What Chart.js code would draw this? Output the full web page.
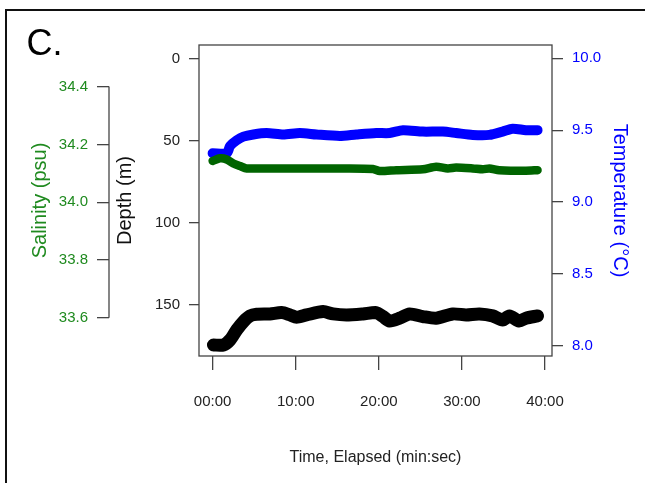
<!DOCTYPE html>
<html>
<head>
<meta charset="utf-8">
<script src="https://cdn.jsdelivr.net/npm/chart.js@4/dist/chart.umd.min.js"></script>
<style>
    html, body { margin: 0; padding: 0; background: #fff; }
    #wrap { width: 645px; height: 483px; }
</style>
</head>
<body>
<div id="wrap"><canvas id="ctdChart" width="645" height="483"></canvas></div>
<script>
// values (time in minutes)
const depthTime = [0.1, 1.3, 2.1, 2.9, 3.7, 4.5, 5.3, 6.9, 8.3, 9.3, 10.1, 11.3, 13.3, 14.5, 16.1, 18.1, 19.7, 20.5, 21.3, 22.5, 23.7, 25.3, 26.9, 28.9, 30.5, 32.1, 33.7, 34.9, 35.7, 36.9, 37.7, 39.1];
const depthValues = [174.3, 174.3, 171.2, 165.1, 160.1, 156.6, 155.6, 155.4, 154.6, 156.0, 157.4, 156.0, 154.0, 155.4, 156.0, 155.4, 154.6, 157.0, 159.7, 158.0, 155.4, 157.0, 158.0, 155.4, 156.0, 155.4, 156.6, 159.1, 156.6, 159.7, 158.0, 156.6];

const tempTime = [0, 1.7, 2.1, 2.9, 3.7, 4.9, 6.5, 8.5, 10.5, 12.5, 15.3, 17.3, 19.7, 21.3, 22.9, 25.3, 27.7, 29.3, 31.3, 33.3, 34.9, 36.1, 37.7, 39.1];
const tempValues = [9.34, 9.34, 9.39, 9.43, 9.455, 9.47, 9.48, 9.47, 9.48, 9.47, 9.46, 9.47, 9.48, 9.48, 9.50, 9.49, 9.49, 9.48, 9.467, 9.467, 9.49, 9.51, 9.50, 9.50];

const salTime = [0, 0.9, 1.7, 2.5, 3.3, 4.1, 8, 12, 16, 19.3, 20.1, 22.1, 25.3, 26.9, 28.3, 29.3, 31.3, 32.5, 33.3, 34.5, 37.7, 39.1];
const salValues = [34.143, 34.152, 34.148, 34.134, 34.125, 34.117, 34.117, 34.117, 34.117, 34.115, 34.108, 34.111, 34.114, 34.123, 34.117, 34.120, 34.117, 34.114, 34.117, 34.111, 34.109, 34.111];

const timeTicks = [0, 10, 20, 30, 40];
const depthTicks = [0, 50, 100, 150];
const tempTicks = [8.0, 8.5, 9.0, 9.5, 10.0];
const salTicks = [33.6, 33.8, 34.0, 34.2, 34.4];

const GREEN = '#006400';
const GREEN_TXT = '#1f8a1f';
const BLUE = '#0000ff';
const AXIS = '#444';
const TXT = '#222';
const FONT = 'Liberation Sans';

function toPoints(xs, ys) {
    return xs.map((x, i) => ({ x: x, y: ys[i] }));
}

function fixTicks(list) {
    return scale => { scale.ticks = list.map(v => ({ value: v })); };
}

// frame, panel letter, box and the floating salinity axis line
const decorPlugin = {
    id: 'decor',
    beforeDraw(chart) {
        const ctx = chart.ctx;
        ctx.save();
        ctx.fillStyle = '#fff';
        ctx.fillRect(0, 0, chart.width, chart.height);
        ctx.strokeStyle = '#111';
        ctx.lineWidth = 2;
        ctx.beginPath();
        ctx.moveTo(6, chart.height);
        ctx.lineTo(6, 10);
        ctx.lineTo(chart.width, 10);
        ctx.stroke();
        ctx.fillStyle = '#000';
        ctx.font = '36px "' + FONT + '"';
        ctx.textBaseline = 'alphabetic';
        ctx.fillText('C.', 26.5, 55);
        ctx.restore();
    },
    afterDatasetsDraw(chart) {
        const ctx = chart.ctx;
        const area = chart.chartArea;
        const sal = chart.scales.sal;
        ctx.save();
        ctx.strokeStyle = AXIS;
        ctx.lineWidth = 1.3;
        ctx.strokeRect(area.left, area.top, area.right - area.left, area.bottom - area.top);
        ctx.beginPath();
        ctx.moveTo(sal.right, sal.getPixelForValue(salTicks[salTicks.length - 1]));
        ctx.lineTo(sal.right, sal.getPixelForValue(salTicks[0]));
        ctx.stroke();
        ctx.restore();
    }
};

function initCtdChart() {
    const ctx = document.getElementById('ctdChart').getContext('2d');
    const gridOpts = (len) => ({ drawOnChartArea: false, drawTicks: true, tickLength: len, color: AXIS, lineWidth: 1.3 });
    new Chart(ctx, {
        type: 'scatter',
        data: {
            datasets: [
                {
                    label: 'Salinity',
                    data: toPoints(salTime, salValues),
                    yAxisID: 'sal',
                    borderColor: GREEN,
                    borderWidth: 8.5
                },
                {
                    label: 'Temperature',
                    data: toPoints(tempTime, tempValues),
                    yAxisID: 'temp',
                    borderColor: BLUE,
                    borderWidth: 10
                },
                {
                    label: 'Depth',
                    data: toPoints(depthTime, depthValues),
                    yAxisID: 'depth',
                    borderColor: '#000',
                    borderWidth: 13
                }
            ]
        },
        options: {
            responsive: false,
            animation: false,
            showLine: true,
            elements: {
                point: { radius: 0, hoverRadius: 0 },
                line: { tension: 0.25, borderCapStyle: 'round', borderJoinStyle: 'round', fill: false }
            },
            layout: { padding: { top: 45, left: 0, right: 0, bottom: 0 } },
            plugins: { legend: { display: false }, tooltip: { enabled: false } },
            scales: {
                x: {
                    type: 'linear',
                    position: 'bottom',
                    min: -1.64,
                    max: 40.84,
                    afterBuildTicks: fixTicks(timeTicks),
                    afterFit: s => { s.height = 127; },
                    grid: gridOpts(14),
                    border: { display: false },
                    ticks: {
                        padding: 23,
                        color: TXT,
                        maxRotation: 0,
                        autoSkip: false,
                        font: { family: FONT, size: 15 },
                        callback: v => String(v).padStart(2, '0') + ':00'
                    },
                    title: {
                        display: true,
                        text: 'Time, Elapsed (min:sec)',
                        color: TXT,
                        font: { family: FONT, size: 16 },
                        padding: { top: 16, bottom: 16 }
                    }
                },
                depth: {
                    type: 'linear',
                    position: 'left',
                    weight: 1,
                    reverse: true,
                    min: -8.2,
                    max: 181.0,
                    afterBuildTicks: fixTicks(depthTicks),
                    afterFit: s => { s.width = 90; },
                    grid: gridOpts(10),
                    border: { display: false },
                    ticks: { padding: 9, color: TXT, font: { family: FONT, size: 15 } },
                    title: {
                        display: true,
                        text: 'Depth (m)',
                        color: '#111',
                        font: { family: FONT, size: 20 },
                        padding: { top: 4, bottom: 4 }
                    }
                },
                sal: {
                    type: 'linear',
                    position: 'left',
                    weight: 2,
                    min: 33.468,
                    max: 34.544,
                    afterBuildTicks: fixTicks(salTicks),
                    afterFit: s => { s.width = 109; },
                    grid: gridOpts(12),
                    border: { display: false },
                    ticks: {
                        padding: 9,
                        color: GREEN_TXT,
                        font: { family: FONT, size: 15 },
                        callback: v => v.toFixed(1)
                    },
                    title: {
                        display: true,
                        text: 'Salinity (psu)',
                        color: GREEN_TXT,
                        font: { family: FONT, size: 20 },
                        padding: { top: 28, bottom: 28 }
                    }
                },
                temp: {
                    type: 'linear',
                    position: 'right',
                    min: 7.930,
                    max: 10.092,
                    afterBuildTicks: fixTicks(tempTicks),
                    afterFit: s => { s.width = 93; },
                    grid: gridOpts(11),
                    border: { display: false },
                    ticks: {
                        padding: 9,
                        color: BLUE,
                        font: { family: FONT, size: 15 },
                        callback: v => v.toFixed(1)
                    },
                    title: {
                        display: true,
                        text: 'Temperature (°C)',
                        color: BLUE,
                        font: { family: FONT, size: 20 },
                        padding: { top: 13, bottom: 13 }
                    }
                }
            }
        },
        plugins: [decorPlugin]
    });
}

initCtdChart();
</script>
</body>
</html>
